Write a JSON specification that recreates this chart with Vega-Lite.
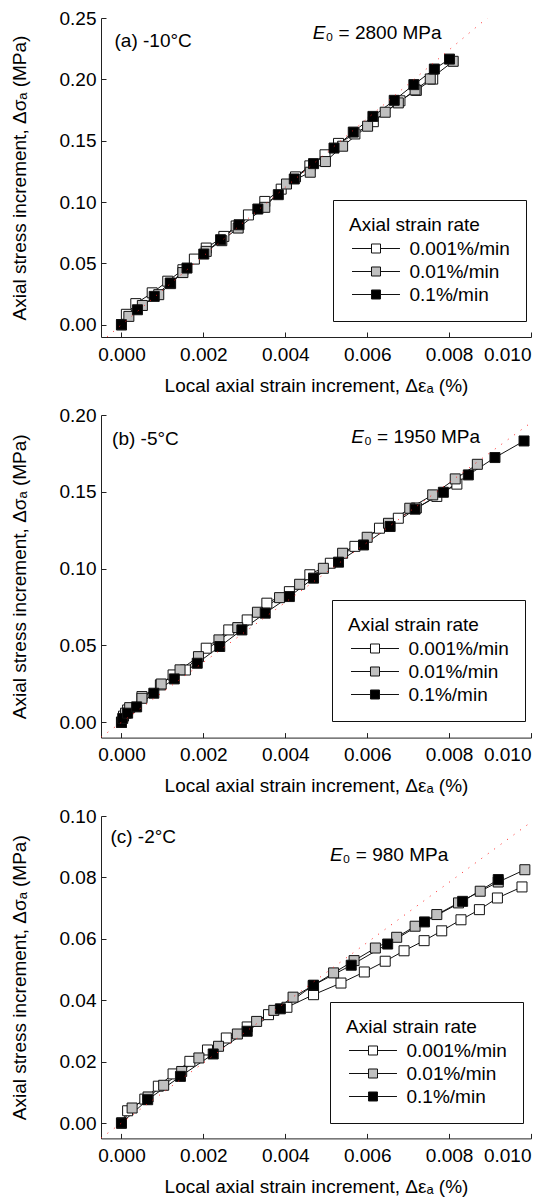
{
"$schema": "https://vega.github.io/schema/vega-lite/v6.json",
"padding": {"top": 9, "left": 10, "right": 0, "bottom": 0},
"config": {
  "font": "Liberation Sans",
  "view": {"stroke": null},
  "axis": {"grid": false, "domainColor": "#222", "tickColor": "#222", "labelColor": "#000", "titleColor": "#000", "labelFontSize": 19, "titleFontSize": 19, "titleFontWeight": "normal", "tickSize": -5, "labelPadding": 10, "domainWidth": 1, "tickWidth": 1, "labelFont": "Liberation Sans", "titleFont": "Liberation Sans"},
  "axisX": {"titlePadding": 12, "labelPadding": 13},
  "axisY": {"titlePadding": 30},
  "legend": {"titleFontSize": 19, "titleFontWeight": "normal", "labelFontSize": 19, "labelColor": "#000", "titleColor": "#000", "strokeColor": "#111", "padding": 16, "rowPadding": 3, "titlePadding": 4},
  "concat": {"spacing": 11}
},
"datasets": {
  "pts": [
    {"p":"a","rate":"0.001%/min","x":0,"y":0},{"p":"a","rate":"0.001%/min","x":0.00012,"y":0.0085},{"p":"a","rate":"0.001%/min","x":0.00035,"y":0.0172},{"p":"a","rate":"0.001%/min","x":0.00075,"y":0.026},{"p":"a","rate":"0.001%/min","x":0.00113,"y":0.0355},{"p":"a","rate":"0.001%/min","x":0.0015,"y":0.0448},{"p":"a","rate":"0.001%/min","x":0.00178,"y":0.0535},{"p":"a","rate":"0.001%/min","x":0.00207,"y":0.0625},{"p":"a","rate":"0.001%/min","x":0.0025,"y":0.072},{"p":"a","rate":"0.001%/min","x":0.0028,"y":0.0805},{"p":"a","rate":"0.001%/min","x":0.0031,"y":0.0895},{"p":"a","rate":"0.001%/min","x":0.0035,"y":0.1005},{"p":"a","rate":"0.001%/min","x":0.0039,"y":0.1105},{"p":"a","rate":"0.001%/min","x":0.00425,"y":0.1205},{"p":"a","rate":"0.001%/min","x":0.0046,"y":0.1295},{"p":"a","rate":"0.001%/min","x":0.00497,"y":0.1385},{"p":"a","rate":"0.001%/min","x":0.0053,"y":0.1478},{"p":"a","rate":"0.001%/min","x":0.0057,"y":0.1555},{"p":"a","rate":"0.001%/min","x":0.00615,"y":0.1655},{"p":"a","rate":"0.001%/min","x":0.0068,"y":0.1825},{"p":"a","rate":"0.001%/min","x":0.0072,"y":0.191},{"p":"a","rate":"0.001%/min","x":0.0076,"y":0.2002},
    {"p":"a","rate":"0.01%/min","x":0,"y":0},{"p":"a","rate":"0.01%/min","x":0.00018,"y":0.0068},{"p":"a","rate":"0.01%/min","x":0.00051,"y":0.0157},{"p":"a","rate":"0.01%/min","x":0.00091,"y":0.0245},{"p":"a","rate":"0.01%/min","x":0.0012,"y":0.0335},{"p":"a","rate":"0.01%/min","x":0.0015,"y":0.0425},{"p":"a","rate":"0.01%/min","x":0.00207,"y":0.0598},{"p":"a","rate":"0.01%/min","x":0.00245,"y":0.0685},{"p":"a","rate":"0.01%/min","x":0.00285,"y":0.0788},{"p":"a","rate":"0.01%/min","x":0.0035,"y":0.0957},{"p":"a","rate":"0.01%/min","x":0.00403,"y":0.1147},{"p":"a","rate":"0.01%/min","x":0.00461,"y":0.1243},{"p":"a","rate":"0.01%/min","x":0.00498,"y":0.133},{"p":"a","rate":"0.01%/min","x":0.0054,"y":0.1455},{"p":"a","rate":"0.01%/min","x":0.00601,"y":0.1618},{"p":"a","rate":"0.01%/min","x":0.00644,"y":0.1732},{"p":"a","rate":"0.01%/min","x":0.00676,"y":0.1808},{"p":"a","rate":"0.01%/min","x":0.00717,"y":0.1914},{"p":"a","rate":"0.01%/min","x":0.00754,"y":0.2003},{"p":"a","rate":"0.01%/min","x":0.0081,"y":0.2147},
    {"p":"a","rate":"0.1%/min","x":0,"y":0},{"p":"a","rate":"0.1%/min","x":0.00039,"y":0.0122},{"p":"a","rate":"0.1%/min","x":0.0008,"y":0.0231},{"p":"a","rate":"0.1%/min","x":0.00119,"y":0.034},{"p":"a","rate":"0.1%/min","x":0.0016,"y":0.0462},{"p":"a","rate":"0.1%/min","x":0.00201,"y":0.0576},{"p":"a","rate":"0.1%/min","x":0.00242,"y":0.0693},{"p":"a","rate":"0.1%/min","x":0.00287,"y":0.0815},{"p":"a","rate":"0.1%/min","x":0.00333,"y":0.0943},{"p":"a","rate":"0.1%/min","x":0.00383,"y":0.106},{"p":"a","rate":"0.1%/min","x":0.00422,"y":0.1188},{"p":"a","rate":"0.1%/min","x":0.00469,"y":0.1313},{"p":"a","rate":"0.1%/min","x":0.00519,"y":0.144},{"p":"a","rate":"0.1%/min","x":0.00566,"y":0.157},{"p":"a","rate":"0.1%/min","x":0.00614,"y":0.1698},{"p":"a","rate":"0.1%/min","x":0.00666,"y":0.1829},{"p":"a","rate":"0.1%/min","x":0.00714,"y":0.1957},{"p":"a","rate":"0.1%/min","x":0.00764,"y":0.2084},{"p":"a","rate":"0.1%/min","x":0.00801,"y":0.2165},
    {"p":"b","rate":"0.001%/min","x":0,"y":0},{"p":"b","rate":"0.001%/min","x":0.00005,"y":0.004},{"p":"b","rate":"0.001%/min","x":0.00015,"y":0.008},{"p":"b","rate":"0.001%/min","x":0.0005,"y":0.0167},{"p":"b","rate":"0.001%/min","x":0.00095,"y":0.0243},{"p":"b","rate":"0.001%/min","x":0.00126,"y":0.0308},{"p":"b","rate":"0.001%/min","x":0.00156,"y":0.034},{"p":"b","rate":"0.001%/min","x":0.00207,"y":0.0482},{"p":"b","rate":"0.001%/min","x":0.00262,"y":0.0601},{"p":"b","rate":"0.001%/min","x":0.00307,"y":0.0666},{"p":"b","rate":"0.001%/min","x":0.00355,"y":0.0775},{"p":"b","rate":"0.001%/min","x":0.0041,"y":0.085},{"p":"b","rate":"0.001%/min","x":0.0046,"y":0.096},{"p":"b","rate":"0.001%/min","x":0.0051,"y":0.1035},{"p":"b","rate":"0.001%/min","x":0.0057,"y":0.1145},{"p":"b","rate":"0.001%/min","x":0.0063,"y":0.1263},{"p":"b","rate":"0.001%/min","x":0.00676,"y":0.1328},{"p":"b","rate":"0.001%/min","x":0.0072,"y":0.1395},{"p":"b","rate":"0.001%/min","x":0.0077,"y":0.147},{"p":"b","rate":"0.001%/min","x":0.00819,"y":0.155},
    {"p":"b","rate":"0.01%/min","x":0,"y":0},{"p":"b","rate":"0.01%/min","x":0.0001,"y":0.0059},{"p":"b","rate":"0.01%/min","x":0.0002,"y":0.0095},{"p":"b","rate":"0.01%/min","x":0.0005,"y":0.0156},{"p":"b","rate":"0.01%/min","x":0.00097,"y":0.0249},{"p":"b","rate":"0.01%/min","x":0.00143,"y":0.0341},{"p":"b","rate":"0.01%/min","x":0.00188,"y":0.0427},{"p":"b","rate":"0.01%/min","x":0.00238,"y":0.0536},{"p":"b","rate":"0.01%/min","x":0.00284,"y":0.0616},{"p":"b","rate":"0.01%/min","x":0.00332,"y":0.0716},{"p":"b","rate":"0.01%/min","x":0.00386,"y":0.0811},{"p":"b","rate":"0.01%/min","x":0.00435,"y":0.0898},{"p":"b","rate":"0.01%/min","x":0.00493,"y":0.1002},{"p":"b","rate":"0.01%/min","x":0.0054,"y":0.11},{"p":"b","rate":"0.01%/min","x":0.006,"y":0.1204},{"p":"b","rate":"0.01%/min","x":0.00652,"y":0.1295},{"p":"b","rate":"0.01%/min","x":0.00704,"y":0.1393},{"p":"b","rate":"0.01%/min","x":0.0076,"y":0.148},{"p":"b","rate":"0.01%/min","x":0.00815,"y":0.1584},{"p":"b","rate":"0.01%/min","x":0.00869,"y":0.1679},
    {"p":"b","rate":"0.1%/min","x":0,"y":0},{"p":"b","rate":"0.1%/min","x":0.00003,"y":0.0025},{"p":"b","rate":"0.1%/min","x":0.00015,"y":0.0059},{"p":"b","rate":"0.1%/min","x":0.00037,"y":0.01},{"p":"b","rate":"0.1%/min","x":0.00079,"y":0.0189},{"p":"b","rate":"0.1%/min","x":0.00129,"y":0.0282},{"p":"b","rate":"0.1%/min","x":0.00185,"y":0.0384},{"p":"b","rate":"0.1%/min","x":0.0024,"y":0.0493},{"p":"b","rate":"0.1%/min","x":0.00294,"y":0.0601},{"p":"b","rate":"0.1%/min","x":0.00351,"y":0.071},{"p":"b","rate":"0.1%/min","x":0.0041,"y":0.0818},{"p":"b","rate":"0.1%/min","x":0.00469,"y":0.0938},{"p":"b","rate":"0.1%/min","x":0.0053,"y":0.1042},{"p":"b","rate":"0.1%/min","x":0.00591,"y":0.1154},{"p":"b","rate":"0.1%/min","x":0.00656,"y":0.1274},{"p":"b","rate":"0.1%/min","x":0.00717,"y":0.1387},{"p":"b","rate":"0.1%/min","x":0.00786,"y":0.1497},{"p":"b","rate":"0.1%/min","x":0.00847,"y":0.161},{"p":"b","rate":"0.1%/min","x":0.00912,"y":0.1723},{"p":"b","rate":"0.1%/min","x":0.00983,"y":0.1831},
    {"p":"c","rate":"0.001%/min","x":0,"y":0},{"p":"c","rate":"0.001%/min","x":0.00015,"y":0.004},{"p":"c","rate":"0.001%/min","x":0.00057,"y":0.0078},{"p":"c","rate":"0.001%/min","x":0.0009,"y":0.012},{"p":"c","rate":"0.001%/min","x":0.00126,"y":0.016},{"p":"c","rate":"0.001%/min","x":0.00167,"y":0.0201},{"p":"c","rate":"0.001%/min","x":0.0021,"y":0.0238},{"p":"c","rate":"0.001%/min","x":0.00256,"y":0.0277},{"p":"c","rate":"0.001%/min","x":0.00307,"y":0.0313},{"p":"c","rate":"0.001%/min","x":0.00359,"y":0.0353},{"p":"c","rate":"0.001%/min","x":0.00404,"y":0.0377},{"p":"c","rate":"0.001%/min","x":0.00469,"y":0.0418},{"p":"c","rate":"0.001%/min","x":0.00536,"y":0.0456},{"p":"c","rate":"0.001%/min","x":0.00593,"y":0.0492},{"p":"c","rate":"0.001%/min","x":0.00644,"y":0.0527},{"p":"c","rate":"0.001%/min","x":0.0069,"y":0.0561},{"p":"c","rate":"0.001%/min","x":0.00739,"y":0.0594},{"p":"c","rate":"0.001%/min","x":0.00782,"y":0.0626},{"p":"c","rate":"0.001%/min","x":0.00829,"y":0.0662},{"p":"c","rate":"0.001%/min","x":0.00874,"y":0.0695},{"p":"c","rate":"0.001%/min","x":0.00918,"y":0.0733},{"p":"c","rate":"0.001%/min","x":0.00978,"y":0.0769},
    {"p":"c","rate":"0.01%/min","x":0,"y":0},{"p":"c","rate":"0.01%/min","x":0.00026,"y":0.0049},{"p":"c","rate":"0.01%/min","x":0.00065,"y":0.0085},{"p":"c","rate":"0.01%/min","x":0.00103,"y":0.0123},{"p":"c","rate":"0.01%/min","x":0.00147,"y":0.0168},{"p":"c","rate":"0.01%/min","x":0.00189,"y":0.0212},{"p":"c","rate":"0.01%/min","x":0.00237,"y":0.025},{"p":"c","rate":"0.01%/min","x":0.00283,"y":0.029},{"p":"c","rate":"0.01%/min","x":0.0033,"y":0.0331},{"p":"c","rate":"0.01%/min","x":0.00372,"y":0.0367},{"p":"c","rate":"0.01%/min","x":0.00419,"y":0.041},{"p":"c","rate":"0.01%/min","x":0.00468,"y":0.0448},{"p":"c","rate":"0.01%/min","x":0.00518,"y":0.0489},{"p":"c","rate":"0.01%/min","x":0.00568,"y":0.0529},{"p":"c","rate":"0.01%/min","x":0.0062,"y":0.057},{"p":"c","rate":"0.01%/min","x":0.00672,"y":0.0605},{"p":"c","rate":"0.01%/min","x":0.00717,"y":0.0641},{"p":"c","rate":"0.01%/min","x":0.0077,"y":0.0679},{"p":"c","rate":"0.01%/min","x":0.00823,"y":0.0717},{"p":"c","rate":"0.01%/min","x":0.00876,"y":0.0755},{"p":"c","rate":"0.01%/min","x":0.0092,"y":0.0785},{"p":"c","rate":"0.01%/min","x":0.00985,"y":0.0825},
    {"p":"c","rate":"0.1%/min","x":0,"y":0},{"p":"c","rate":"0.1%/min","x":0.00064,"y":0.0076},{"p":"c","rate":"0.1%/min","x":0.00144,"y":0.0152},{"p":"c","rate":"0.1%/min","x":0.00224,"y":0.0225},{"p":"c","rate":"0.1%/min","x":0.00307,"y":0.0299},{"p":"c","rate":"0.1%/min","x":0.00388,"y":0.0372},{"p":"c","rate":"0.1%/min","x":0.00469,"y":0.0449},{"p":"c","rate":"0.1%/min","x":0.00561,"y":0.0514},{"p":"c","rate":"0.1%/min","x":0.0065,"y":0.0583},{"p":"c","rate":"0.1%/min","x":0.0074,"y":0.0655},{"p":"c","rate":"0.1%/min","x":0.00833,"y":0.0722},{"p":"c","rate":"0.1%/min","x":0.0092,"y":0.0793}
  ],
  "ref": [
    {"p":"a","x":-0.0005,"y":-0.014},{"p":"a","x":0.0095,"y":0.266},
    {"p":"b","x":-0.0005,"y":-0.00975},{"p":"b","x":0.0102,"y":0.1989},
    {"p":"c","x":-0.0005,"y":-0.0049},{"p":"c","x":0.0102,"y":0.09996}
  ]
},
"resolve": {"scale": {"x": "independent", "y": "independent", "fill": "independent"}, "legend": {"fill": "independent"}},
"vconcat": [
  {
    "width": 430, "height": 319,
    "layer": [
      {"data": {"name": "pts"}, "transform": [{"filter": "datum.p == 'a'"}],
       "mark": {"type": "line", "stroke": "#111", "strokeWidth": 1},
       "encoding": {
         "x": {"field": "x", "type": "quantitative", "scale": {"domain": [-0.0005, 0.01], "nice": false, "zero": false}, "axis": {"values": [0, 0.002, 0.004, 0.006, 0.008, 0.01], "format": ".3f", "title": "Local axial strain increment, Δεₐ (%)"}},
         "y": {"field": "y", "type": "quantitative", "scale": {"domain": [-0.01, 0.25], "nice": false, "zero": false}, "axis": {"values": [0, 0.05, 0.1, 0.15, 0.2, 0.25], "format": ".2f", "title": "Axial stress increment, Δσₐ (MPa)"}},
         "detail": {"field": "rate"}}},
      {"data": {"name": "pts"}, "transform": [{"filter": "datum.p == 'a'"}],
       "mark": {"type": "point", "shape": "square", "size": 100, "filled": true, "opacity": 1, "stroke": "#111", "strokeWidth": 1},
       "encoding": {
         "x": {"field": "x", "type": "quantitative"},
         "y": {"field": "y", "type": "quantitative"},
         "fill": {"field": "rate", "type": "nominal", "scale": {"domain": ["0.001%/min", "0.01%/min", "0.1%/min"], "range": ["#ffffff", "#c0c0c0", "#000000"]},
                  "legend": {"title": "Axial strain rate", "orient": "none", "legendX": 232, "legendY": 182, "symbolType": "M-2.82,0H-0.53M0.53,0H2.82M-0.53,-0.53H0.53V0.53H-0.53Z", "symbolSize": 289, "symbolStrokeColor": "#111", "symbolStrokeWidth": 1, "symbolOffset": 17.5, "labelOffset": 24}}}},
      {"data": {"name": "ref"}, "transform": [{"filter": "datum.p == 'a'"}],
       "mark": {"type": "line", "stroke": "#ff2020", "strokeWidth": 1, "strokeDash": [1, 7], "clip": true},
       "encoding": {"x": {"field": "x", "type": "quantitative"}, "y": {"field": "y", "type": "quantitative"}}},
      {"data": {"values": [{"t": "(a) -10°C"}]},
       "mark": {"type": "text", "align": "left", "baseline": "alphabetic", "fontSize": 19, "color": "#000"},
       "encoding": {"x": {"datum": -0.00017}, "y": {"datum": 0.2264}, "text": {"field": "t"}}},
      {"data": {"values": [{"t": "E"}]},
       "mark": {"type": "text", "align": "right", "baseline": "alphabetic", "fontSize": 19, "fontStyle": "italic", "color": "#000"},
       "encoding": {"x": {"datum": 0.00498}, "y": {"datum": 0.2329}, "text": {"field": "t"}}},
      {"data": {"values": [{"t": "₀ = 2800 MPa"}]},
       "mark": {"type": "text", "align": "left", "baseline": "alphabetic", "fontSize": 19, "color": "#000"},
       "encoding": {"x": {"datum": 0.00498}, "y": {"datum": 0.2329}, "text": {"field": "t"}}}
    ]
  },
  {
    "width": 430, "height": 322.6,
    "layer": [
      {"data": {"name": "pts"}, "transform": [{"filter": "datum.p == 'b'"}],
       "mark": {"type": "line", "stroke": "#111", "strokeWidth": 1},
       "encoding": {
         "x": {"field": "x", "type": "quantitative", "scale": {"domain": [-0.0005, 0.01], "nice": false, "zero": false}, "axis": {"values": [0, 0.002, 0.004, 0.006, 0.008, 0.01], "format": ".3f", "title": "Local axial strain increment, Δεₐ (%)"}},
         "y": {"field": "y", "type": "quantitative", "scale": {"domain": [-0.01, 0.2], "nice": false, "zero": false}, "axis": {"values": [0, 0.05, 0.1, 0.15, 0.2], "format": ".2f", "title": "Axial stress increment, Δσₐ (MPa)"}},
         "detail": {"field": "rate"}}},
      {"data": {"name": "pts"}, "transform": [{"filter": "datum.p == 'b'"}],
       "mark": {"type": "point", "shape": "square", "size": 100, "filled": true, "opacity": 1, "stroke": "#111", "strokeWidth": 1},
       "encoding": {
         "x": {"field": "x", "type": "quantitative"},
         "y": {"field": "y", "type": "quantitative"},
         "fill": {"field": "rate", "type": "nominal", "scale": {"domain": ["0.001%/min", "0.01%/min", "0.1%/min"], "range": ["#ffffff", "#c0c0c0", "#000000"]},
                  "legend": {"title": "Axial strain rate", "orient": "none", "legendX": 231, "legendY": 185, "symbolType": "M-2.82,0H-0.53M0.53,0H2.82M-0.53,-0.53H0.53V0.53H-0.53Z", "symbolSize": 289, "symbolStrokeColor": "#111", "symbolStrokeWidth": 1, "symbolOffset": 17.5, "labelOffset": 24}}}},
      {"data": {"name": "ref"}, "transform": [{"filter": "datum.p == 'b'"}],
       "mark": {"type": "line", "stroke": "#ff2020", "strokeWidth": 1, "strokeDash": [1, 7], "clip": true},
       "encoding": {"x": {"field": "x", "type": "quantitative"}, "y": {"field": "y", "type": "quantitative"}}},
      {"data": {"values": [{"t": "(b) -5°C"}]},
       "mark": {"type": "text", "align": "left", "baseline": "alphabetic", "fontSize": 19, "color": "#000"},
       "encoding": {"x": {"datum": -0.00023}, "y": {"datum": 0.1805}, "text": {"field": "t"}}},
      {"data": {"values": [{"t": "E"}]},
       "mark": {"type": "text", "align": "right", "baseline": "alphabetic", "fontSize": 19, "fontStyle": "italic", "color": "#000"},
       "encoding": {"x": {"datum": 0.00592}, "y": {"datum": 0.1816}, "text": {"field": "t"}}},
      {"data": {"values": [{"t": "₀ = 1950 MPa"}]},
       "mark": {"type": "text", "align": "left", "baseline": "alphabetic", "fontSize": 19, "color": "#000"},
       "encoding": {"x": {"datum": 0.00592}, "y": {"datum": 0.1816}, "text": {"field": "t"}}}
    ]
  },
  {
    "width": 430, "height": 322.4,
    "layer": [
      {"data": {"name": "pts"}, "transform": [{"filter": "datum.p == 'c'"}],
       "mark": {"type": "line", "stroke": "#111", "strokeWidth": 1},
       "encoding": {
         "x": {"field": "x", "type": "quantitative", "scale": {"domain": [-0.0005, 0.01], "nice": false, "zero": false}, "axis": {"values": [0, 0.002, 0.004, 0.006, 0.008, 0.01], "format": ".3f", "title": "Local axial strain increment, Δεₐ (%)"}},
         "y": {"field": "y", "type": "quantitative", "scale": {"domain": [-0.005, 0.1], "nice": false, "zero": false}, "axis": {"values": [0, 0.02, 0.04, 0.06, 0.08, 0.1], "format": ".2f", "title": "Axial stress increment, Δσₐ (MPa)"}},
         "detail": {"field": "rate"}}},
      {"data": {"name": "pts"}, "transform": [{"filter": "datum.p == 'c'"}],
       "mark": {"type": "point", "shape": "square", "size": 100, "filled": true, "opacity": 1, "stroke": "#111", "strokeWidth": 1},
       "encoding": {
         "x": {"field": "x", "type": "quantitative"},
         "y": {"field": "y", "type": "quantitative"},
         "fill": {"field": "rate", "type": "nominal", "scale": {"domain": ["0.001%/min", "0.01%/min", "0.1%/min"], "range": ["#ffffff", "#c0c0c0", "#000000"]},
                  "legend": {"title": "Axial strain rate", "orient": "none", "legendX": 229, "legendY": 186, "symbolType": "M-2.82,0H-0.53M0.53,0H2.82M-0.53,-0.53H0.53V0.53H-0.53Z", "symbolSize": 289, "symbolStrokeColor": "#111", "symbolStrokeWidth": 1, "symbolOffset": 17.5, "labelOffset": 24}}}},
      {"data": {"name": "ref"}, "transform": [{"filter": "datum.p == 'c'"}],
       "mark": {"type": "line", "stroke": "#ff2020", "strokeWidth": 1, "strokeDash": [1, 7], "clip": true},
       "encoding": {"x": {"field": "x", "type": "quantitative"}, "y": {"field": "y", "type": "quantitative"}}},
      {"data": {"values": [{"t": "(c) -2°C"}]},
       "mark": {"type": "text", "align": "left", "baseline": "alphabetic", "fontSize": 19, "color": "#000"},
       "encoding": {"x": {"datum": -0.00027}, "y": {"datum": 0.0912}, "text": {"field": "t"}}},
      {"data": {"values": [{"t": "E"}]},
       "mark": {"type": "text", "align": "right", "baseline": "alphabetic", "fontSize": 19, "fontStyle": "italic", "color": "#000"},
       "encoding": {"x": {"datum": 0.0054}, "y": {"datum": 0.0852}, "text": {"field": "t"}}},
      {"data": {"values": [{"t": "₀ = 980 MPa"}]},
       "mark": {"type": "text", "align": "left", "baseline": "alphabetic", "fontSize": 19, "color": "#000"},
       "encoding": {"x": {"datum": 0.0054}, "y": {"datum": 0.0852}, "text": {"field": "t"}}}
    ]
  }
]
}
